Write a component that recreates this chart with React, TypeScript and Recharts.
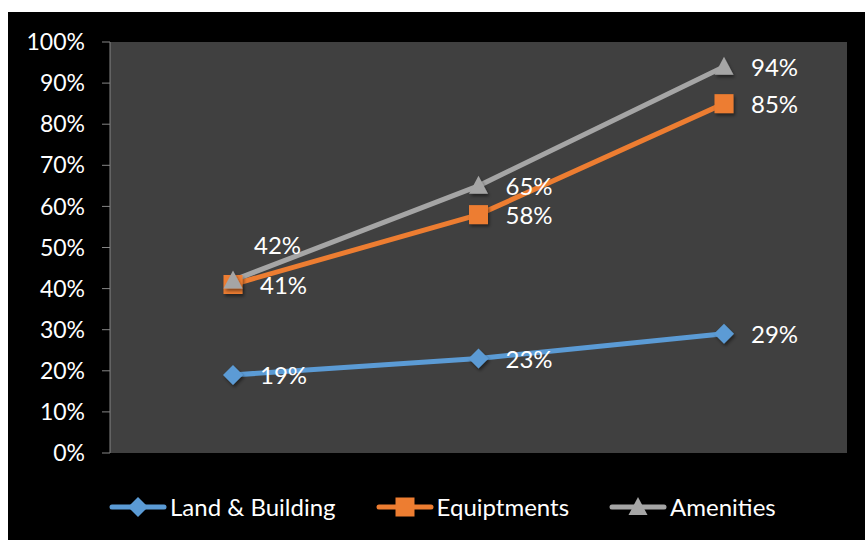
import { CartesianGrid, LabelList, Line, LineChart, XAxis, YAxis } from 'recharts';

const categories = ['Phase 1', 'Phase 2', 'Phase 3'];
const landBuilding = [0.19, 0.23, 0.29];
const equipments = [0.41, 0.58, 0.85];
const amenities = [0.42, 0.65, 0.94];
const yTicks = [0, 0.1, 0.2, 0.3, 0.4, 0.5, 0.6, 0.7, 0.8, 0.9, 1];

const series = [
  { key: 'land', name: 'Land & Building', color: '#5B9BD5', shape: 'diamond' },
  { key: 'equip', name: 'Equiptments', color: '#ED7D31', shape: 'square' },
  { key: 'amen', name: 'Amenities', color: '#A5A5A5', shape: 'triangle' },
];

// hand-moved labels (dx, dy from the point), otherwise label sits to the right
const labelShift: Record<string, Record<number, [number, number]>> = {
  amen: { 0: [21, -36] },
};

const data = categories.map((c, i) => ({
  name: c,
  land: landBuilding[i],
  equip: equipments[i],
  amen: amenities[i],
}));

const FONT = 'Lato, "Open Sans", sans-serif';
const pct = (v: number) => `${Math.round(v * 100)}%`;

function Marker({ cx, cy, shape, color, filter }: any) {
  if (cx == null || cy == null) return null;
  if (shape === 'diamond') {
    return (
      <polygon
        points={`${cx},${cy - 10} ${cx + 10},${cy} ${cx},${cy + 10} ${cx - 10},${cy}`}
        fill={color}
        filter={filter}
      />
    );
  }
  if (shape === 'square') {
    return <rect x={cx - 9.5} y={cy - 9.5} width={19} height={19} fill={color} filter={filter} />;
  }
  return (
    <polygon
      points={`${cx},${cy - 10} ${cx + 9.5},${cy + 8} ${cx - 9.5},${cy + 8}`}
      fill={color}
      filter={filter}
    />
  );
}

function Legend() {
  return (
    <div
      style={{
        position: 'absolute',
        left: 101,
        top: 480,
        display: 'flex',
        alignItems: 'center',
        gap: 40,
        fontFamily: FONT,
        fontSize: 24,
        color: '#fff',
      }}
    >
      {series.map((s) => (
        <div key={s.key} style={{ display: 'flex', alignItems: 'center' }}>
          <svg width={58} height={24} style={{ marginRight: 3 }}>
            <line x1={3} y1={12} x2={55} y2={12} stroke={s.color} strokeWidth={5} strokeLinecap="round" />
            <Marker cx={29} cy={12} shape={s.shape} color={s.color} />
          </svg>
          <span>{s.name}</span>
        </div>
      ))}
    </div>
  );
}

export default function App() {
  return (
    <div
      style={{
        position: 'absolute',
        left: 8,
        top: 12,
        width: 857,
        height: 528,
        background: '#000',
      }}
    >
      <LineChart
        width={857}
        height={528}
        data={data}
        margin={{ top: 30, right: 18, bottom: 87, left: 0 }}
      >
        <defs>
          <filter id="mk-shadow" x="-50%" y="-50%" width="200%" height="200%">
            <feDropShadow dx={1.5} dy={2.5} stdDeviation={1.5} floodColor="#000" floodOpacity={0.45} />
          </filter>
        </defs>
        <CartesianGrid horizontal={false} vertical={false} fill="#404040" stroke="none" />
        <XAxis dataKey="name" hide padding={{ left: 123, right: 123 }} />
        <YAxis
          width={102}
          domain={[0, 1]}
          ticks={yTicks}
          tickFormatter={pct}
          interval={0}
          axisLine={{ stroke: '#868686', strokeWidth: 1 }}
          tickLine={{ stroke: '#868686', strokeWidth: 1 }}
          tickSize={8}
          tickMargin={17}
          tick={{ fill: '#fff', fontSize: 23, fontFamily: FONT }}
        />
        {series.map((s) => (
          <Line
            key={s.key}
            dataKey={s.key}
            name={s.name}
            stroke={s.color}
            strokeWidth={5}
            strokeLinecap="round"
            isAnimationActive={false}
            dot={(p: any) => (
              <Marker
                key={`${s.key}-${p.index}`}
                cx={p.cx}
                cy={p.cy}
                shape={s.shape}
                color={s.color}
                filter="url(#mk-shadow)"
              />
            )}
            activeDot={false}
          >
            <LabelList
              dataKey={s.key}
              content={(p: any) => {
                const shift = labelShift[s.key]?.[p.index] ?? [27, 0];
                return (
                  <text
                    x={p.x + shift[0]}
                    y={p.y + shift[1]}
                    fill="#fff"
                    fontSize={24}
                    fontFamily={FONT}
                    dominantBaseline="central"
                  >
                    {pct(p.value)}
                  </text>
                );
              }}
            />
          </Line>
        ))}
      </LineChart>
      <Legend />
    </div>
  );
}
